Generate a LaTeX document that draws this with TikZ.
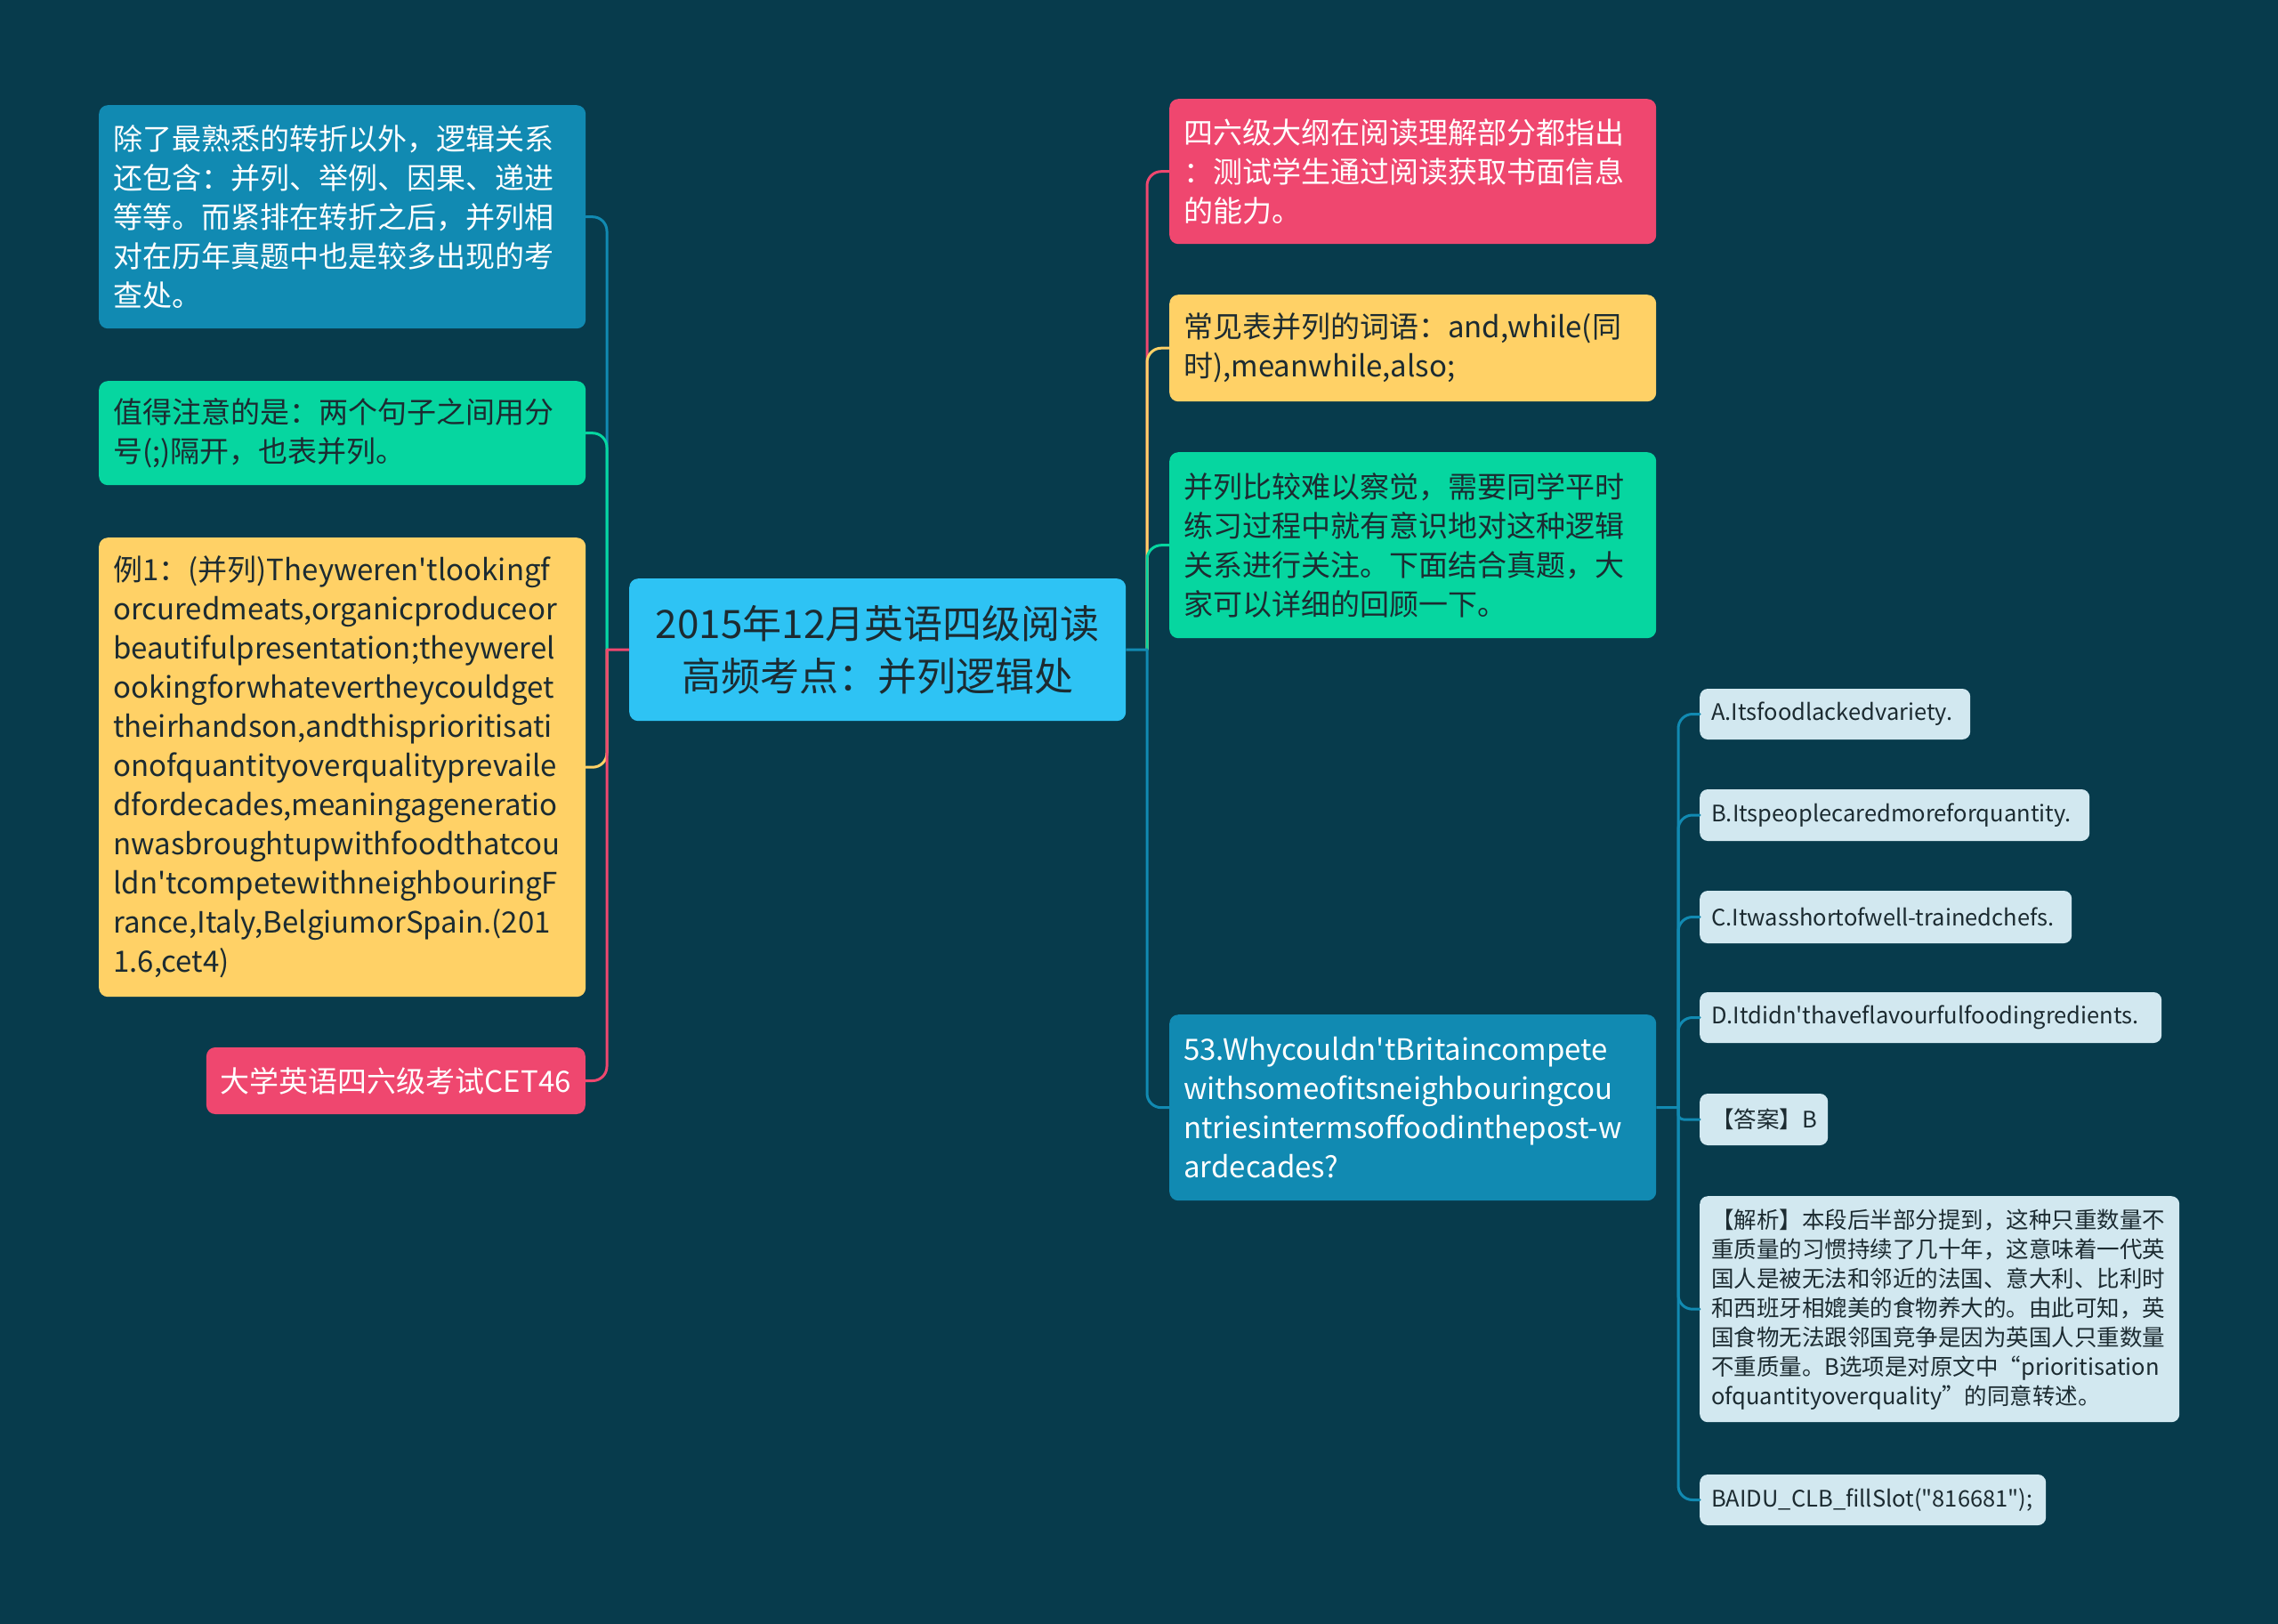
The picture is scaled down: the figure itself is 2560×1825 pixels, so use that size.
\documentclass[tikz,border=0pt]{standalone}
\usepackage{fontspec}
\newfontfamily\nf{Noto Sans CJK SC}
\definecolor{bg}{HTML}{073B4C}
\definecolor{cblue}{HTML}{118AB2}
\definecolor{cgreen}{HTML}{06D6A0}
\definecolor{cyellow}{HTML}{FFD166}
\definecolor{cpink}{HTML}{EF476F}
\definecolor{ccenter}{HTML}{2EC3F4}
\definecolor{clight}{HTML}{D2E8F0}
\definecolor{dtext}{HTML}{1C2B31}
\begin{document}
\begin{tikzpicture}[x=1pt,y=-1pt,
  box/.style={rounded corners=10pt, inner xsep=16pt, inner ysep=0pt, align=left, anchor=north west,
    font=\nf\fontsize{33}{44}\selectfont},
  smallbox/.style={rounded corners=9pt, inner xsep=13pt, inner ysep=0pt, align=left,
    fill=clight, text=dtext, font=\nf\fontsize{25.5}{33}\selectfont},
  conn/.style={line width=3pt, rounded corners=16pt, line cap=round},
  stub/.style={line width=3pt}
]
\useasboundingbox (0,0) rectangle (2560,1825);
\fill[bg] (0,0) rectangle (2560,1825);

% center
\node[box, fill=ccenter, text=dtext, align=center, text width=526pt, minimum height=160pt,
  font=\nf\fontsize{44}{59}\selectfont] (c) at (707,650) {2015年12月英语四级阅读\\高频考点：并列逻辑处};

% left nodes
\node[box, fill=cblue, text=white, text width=515pt, minimum height=251pt] (l1) at (111,118)
{除了最熟悉的转折以外，逻辑关系\\还包含：并列、举例、因果、递进\\等等。而紧排在转折之后，并列相\\对在历年真题中也是较多出现的考\\查处。};
\node[box, fill=cgreen, text=dtext, text width=515pt, minimum height=117pt] (l2) at (111,428)
{值得注意的是：两个句子之间用分\\号(;)隔开，也表并列。};
\node[box, fill=cyellow, text=dtext, text width=515pt, minimum height=516pt] (l3) at (111,604)
{例1：(并列)Theyweren'tlookingf\\orcuredmeats,organicproduceor\\beautifulpresentation;theywerel\\ookingforwhatevertheycouldget\\theirhandson,andthisprioritisati\\onofquantityoverqualityprevaile\\dfordecades,meaningageneratio\\nwasbroughtupwithfoodthatcou\\ldn'tcompetewithneighbouringF\\rance,Italy,BelgiumorSpain.(201\\1.6,cet4)};
\node[box, anchor=east, fill=cpink, text=white, minimum height=75pt] (l4) at (658,1214.5)
{大学英语四六级考试CET46};

% right nodes
\node[box, fill=cpink, text=white, text width=515pt, minimum height=163pt] (r1) at (1314,111)
{四六级大纲在阅读理解部分都指出\\：测试学生通过阅读获取书面信息\\的能力。};
\node[box, fill=cyellow, text=dtext, text width=515pt, minimum height=120pt] (r2) at (1314,331)
{常见表并列的词语：and,while(同\\时),meanwhile,also;};
\node[box, fill=cgreen, text=dtext, text width=515pt, minimum height=209pt] (r3) at (1314,508)
{并列比较难以察觉，需要同学平时\\练习过程中就有意识地对这种逻辑\\关系进行关注。下面结合真题，大\\家可以详细的回顾一下。};
\node[box, fill=cblue, text=white, text width=515pt, minimum height=209pt] (r4) at (1314,1140)
{53.Whycouldn'tBritaincompete\\withsomeofitsneighbouringcou\\ntriesintermsoffoodinthepost-w\\ardecades?};

% small nodes
\node[smallbox, anchor=west, text width=278pt, minimum height=57pt] (sa) at (1910,802.5) {A.Itsfoodlackedvariety.};
\node[smallbox, anchor=west, text width=412pt, minimum height=58pt] (sb) at (1910,916) {B.Itspeoplecaredmoreforquantity.};
\node[smallbox, anchor=west, text width=392pt, minimum height=59pt] (sc) at (1910,1030.5) {C.Itwasshortofwell-trainedchefs.};
\node[smallbox, anchor=west, text width=493pt, minimum height=57pt] (sd) at (1910,1143.5) {D.Itdidn'thaveflavourfulfoodingredients.};
\node[smallbox, anchor=west, text width=118pt, minimum height=58pt] (se) at (1910,1258) {【答案】B};
\node[smallbox, anchor=north west, text width=513pt, minimum height=254pt] (sf) at (1910,1344)
{【解析】本段后半部分提到，这种只重数量不\\重质量的习惯持续了几十年，这意味着一代英\\国人是被无法和邻近的法国、意大利、比利时\\和西班牙相媲美的食物养大的。由此可知，英\\国食物无法跟邻国竞争是因为英国人只重数量\\不重质量。B选项是对原文中“prioritisation\\ofquantityoverquality”的同意转述。};
\node[smallbox, anchor=west, text width=363pt, minimum height=57pt] (sg) at (1910,1685.5) {BAIDU\_CLB\_fillSlot("816681");};

% spines
\coordinate (ls) at (682,730);
\coordinate (rs) at (1289,730);
\coordinate (ss) at (1886,1244.5);

% left connectors
\draw[conn, cblue] (ls) |- (l1.east);
\draw[conn, cgreen] (ls) |- (l2.east);
\draw[conn, cyellow] (ls) |- (l3.east);
\draw[conn, cpink] (ls) |- (l4.east);
\draw[stub, cpink] (c.west) -- (ls);

% right connectors
\draw[conn, cpink] (rs) |- (r1.west);
\draw[conn, cyellow] (rs) |- (r2.west);
\draw[conn, cgreen] (rs) |- (r3.west);
\draw[conn, cblue] (rs) |- (r4.west);
\draw[stub, cblue] (c.east) -- (rs);

% small connectors
\draw[conn, cblue] (ss) |- (sa.west);
\draw[conn, cblue] (ss) |- (sb.west);
\draw[conn, cblue] (ss) |- (sc.west);
\draw[conn, cblue] (ss) |- (sd.west);
\draw[conn, cblue, rounded corners=6pt] (ss) |- (se.west);
\draw[conn, cblue] (ss) |- (sf.west);
\draw[conn, cblue] (ss) |- (sg.west);
\draw[stub, cblue] (r4.east) -- (ss);
\end{tikzpicture}
\end{document}
